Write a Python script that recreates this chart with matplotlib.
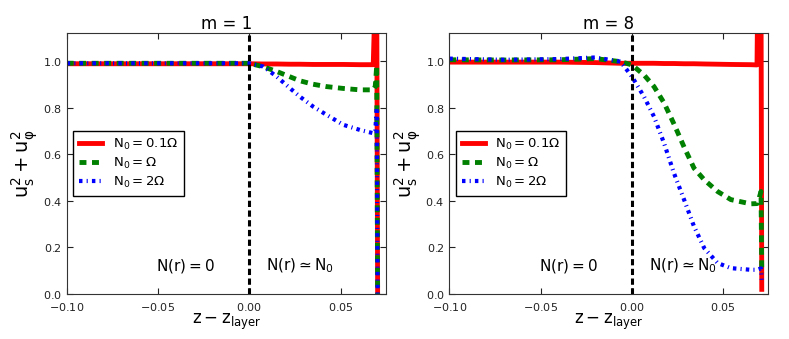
import matplotlib
matplotlib.use('Agg')
import matplotlib.pyplot as plt
from matplotlib.ticker import FuncFormatter

plt.rcParams['mathtext.default'] = 'regular'
plt.rcParams['lines.scale_dashes'] = False

# m = 1 panel
z_m1 = [-0.10, -0.05, -0.02, 0.0, 0.0077, 0.015, 0.0223, 0.0277, 0.035, 0.0423,
        0.0515, 0.0606, 0.0679, 0.0690, 0.0698, 0.0703]
red_m1 = [0.988, 0.988, 0.988, 0.988, 0.987, 0.987, 0.986, 0.986, 0.985, 0.985,
          0.985, 0.984, 0.984, 1.30, 1.30, 0.0]
green_m1 = [0.99, 0.99, 0.99, 0.99, 0.975, 0.955, 0.932, 0.915, 0.900, 0.890,
            0.882, 0.876, 0.876, 0.89, 0.98, 0.0]
blue_m1 = [0.99, 0.99, 0.99, 0.99, 0.976, 0.933, 0.883, 0.847, 0.804, 0.769,
           0.726, 0.704, 0.690, 0.70, 0.797, 0.0]

# m = 8 panel
z_m8 = [-0.10, -0.07, -0.04, -0.02, -0.0062, 0.0, 0.0066, 0.0121, 0.0176, 0.023,
        0.0286, 0.034, 0.0396, 0.0469, 0.0542, 0.065, 0.0685, 0.0689, 0.0707, 0.0711]
red_m8 = [0.995, 0.995, 0.995, 0.993, 0.99, 0.99, 0.99, 0.99, 0.989, 0.989,
          0.988, 0.988, 0.987, 0.986, 0.985, 0.984, 0.983, 1.30, 1.30, 0.02]
green_m8 = [1.005, 1.004, 1.005, 1.01, 0.997, 0.983, 0.94, 0.89, 0.82, 0.73,
            0.63, 0.54, 0.49, 0.44, 0.405, 0.387, 0.388, 0.39, 0.44, 0.09]
blue_m8 = [1.01, 1.005, 1.008, 1.015, 0.997, 0.933, 0.847, 0.761, 0.647, 0.519,
           0.404, 0.29, 0.197, 0.133, 0.111, 0.104, 0.104, 0.105, 0.11, 0.061]

titles = ['m = 1', 'm = 8']
labels = [r'$N_0 = 0.1\Omega$', r'$N_0 = \Omega$', r'$N_0 = 2\Omega$']
colors = ['red', 'green', 'blue']
panels = [(z_m1, [red_m1, green_m1, blue_m1]), (z_m8, [red_m8, green_m8, blue_m8])]

fig = plt.figure(figsize=(7.89, 3.39), dpi=100)
lefts = [0.0845, 0.5695]

for i, (z, series) in enumerate(panels):
    ax = fig.add_axes([lefts[i], 0.1327, 0.4043, 0.77])
    styles = [dict(linestyle='-', lw=3.5),
              dict(linestyle='--', dashes=(5, 4), lw=3.5),
              dict(linestyle='-.', dashes=(2.5, 3, 0.8, 3), lw=3)]
    for y, c, lab, st in zip(series, colors, labels, styles):
        ax.plot(z, y, color=c, label=lab, **st)
    ax.axvline(0.0, color='black', lw=2.2, linestyle='--', dashes=(4.5, 2.5))
    ax.set_xlim(-0.10, 0.0747)
    ax.set_ylim(0.0, 1.12)
    ax.set_xticks([-0.10, -0.05, 0.0, 0.05])
    ax.set_yticks([0.0, 0.2, 0.4, 0.6, 0.8, 1.0])
    ax.xaxis.set_major_formatter(FuncFormatter(lambda v, p: r'$%.2f$' % v))
    ax.yaxis.set_major_formatter(FuncFormatter(lambda v, p: r'$%.1f$' % v))
    ax.tick_params(direction='in', top=True, right=True, labelsize=8,
                   length=4, colors='#222222')
    ax.tick_params(axis='x', pad=5)
    for sp in ax.spines.values():
        sp.set_color('#333333')
    ax.set_title(titles[i], fontsize=12, pad=3)
    ax.set_xlabel(r'$z - z_{layer}$', fontsize=12, labelpad=-1)
    ax.set_ylabel(r'$u_s^2 + u_\varphi^2$', fontsize=14, labelpad=2)
    ax.text(-0.035, 0.10, r'$N(r) = 0$', fontsize=11, ha='center')
    ax.text(0.0277, 0.10, r'$N(r) \simeq N_0$', fontsize=11, ha='center')
    leg = ax.legend(loc='upper left', bbox_to_anchor=(0.02, 0.625), fontsize=9.5,
                    fancybox=False, framealpha=1, edgecolor='black',
                    handlelength=1.75, borderpad=0.45, labelspacing=0.3,
                    borderaxespad=0)
    leg.get_frame().set_linewidth(1.0)

fig.savefig('out.png', dpi=100)
